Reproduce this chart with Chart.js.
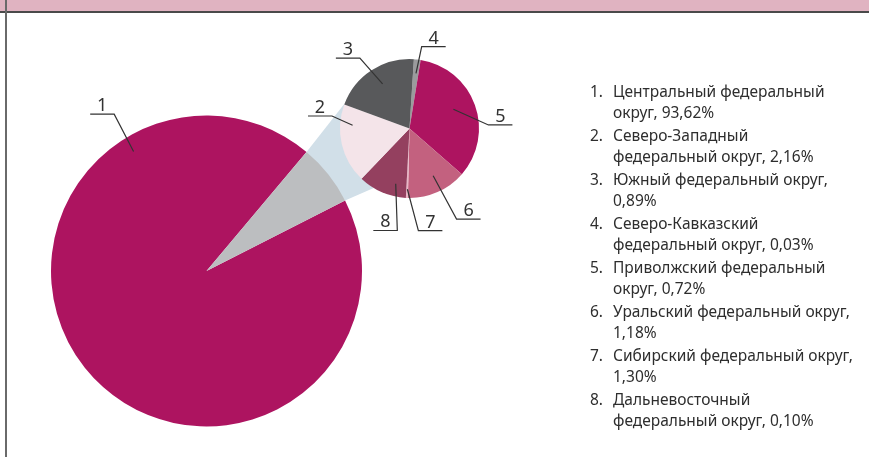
<!DOCTYPE html>
<html>
<head>
<meta charset="utf-8">
<script src="https://cdn.jsdelivr.net/npm/chart.js@4.4.0/dist/chart.umd.min.js"></script>
<style>
    body { margin: 0; width: 869px; height: 457px; overflow: hidden; background: #fff; position: relative; }
    #band { position: absolute; left: 0; top: 0; width: 869px; height: 11px; background: #e0b3c1; border-bottom: 2px solid #4a4a4a; }
    #frame { position: absolute; left: 5px; top: 0; width: 2px; height: 457px; background: #6a6a6a; }
    canvas { position: absolute; left: 0; top: 0; }
    #smallPie { z-index: 1; }
    #bigPie { z-index: 2; }
    #legend { position: absolute; left: 590px; top: 81px; z-index: 3; font-family: "Noto Sans", sans-serif; font-size: 15.5px; color: #2e2e2e; }
    .item { display: flex; line-height: 20.5px; margin-bottom: 3px; }
    .num { width: 23px; flex: none; }
</style>
</head>
<body>
<div id="band"></div>
<div id="frame"></div>
<canvas id="smallPie" width="869" height="457"></canvas>
<canvas id="bigPie" width="869" height="457"></canvas>
<div id="legend"></div>
<script>
// Chart data

// Legend: federal districts and their shares, %
const regionNames = [
    'Центральный федеральный округ',
    'Северо-Западный федеральный округ',
    'Южный федеральный округ',
    'Северо-Кавказский федеральный округ',
    'Приволжский федеральный округ',
    'Уральский федеральный округ',
    'Сибирский федеральный округ',
    'Дальневосточный федеральный округ'
];
const regionShares = [93.62, 2.16, 0.89, 0.03, 0.72, 1.18, 1.30, 0.10];
// words on the first legend line of each item
const firstLineWords = [2, 1, 3, 1, 2, 3, 3, 1];

// Main pie: slice 1 and the combined rest
const bigLabels = ['1', 'Прочие'];
const bigValues = [93.62, 6.38];
const bigColors = ['#ad1460', '#bcbec0'];

// Secondary pie, slices in drawing order (clockwise from top)
const smallLabels = ['4', '5', '6', '7', '8', '2', '3'];
const smallValues = [0.10, 2.16, 0.89, 0.03, 0.72, 1.18, 1.30];
const smallColors = ['#9b9b9d', '#ad1460', '#c3617f', '#e9b6c6', '#94405f', '#f4e4e9', '#58595b'];

// Build legend
const legendEl = document.getElementById('legend');
regionNames.forEach((name, i) => {
    const words = (name + ', ' + regionShares[i].toFixed(2).replace('.', ',') + '%').split(' ');
    const n = firstLineWords[i];
    const div = document.createElement('div');
    div.className = 'item';
    div.innerHTML = `<span class="num">${i + 1}.</span><span>${words.slice(0, n).join(' ')}<br>${words.slice(n).join(' ')}</span>`;
    legendEl.appendChild(div);
});

// Leader lines with numbers
const leaderPlugin = {
    id: 'leaders',
    afterDatasetsDraw(chart, args, opts) {
        const arc = chart.getDatasetMeta(0).data[0];
        const cx = arc.x, cy = arc.y, r = arc.outerRadius;
        const ctx = chart.ctx;
        ctx.save();
        ctx.strokeStyle = '#333';
        ctx.fillStyle = '#333';
        ctx.lineWidth = 1.2;
        ctx.font = '18px "Noto Sans", sans-serif';
        ctx.textAlign = 'center';
        ctx.textBaseline = 'alphabetic';
        opts.items.forEach(it => {
            const a = it.angle * Math.PI / 180;
            const ax = cx + Math.cos(a) * r * it.dist;
            const ay = cy + Math.sin(a) * r * it.dist;
            const ex = ax + it.dx, ey = ay + it.dy;
            const ux = ex + it.side * 24;
            ctx.beginPath();
            ctx.moveTo(ax, ay);
            ctx.lineTo(ex, ey);
            ctx.lineTo(ux, ey);
            ctx.stroke();
            ctx.fillText(chart.data.labels[it.index], (ex + ux) / 2, ey - 3);
        });
        ctx.restore();
    }
};

// Big pie
const bigChart = new Chart(document.getElementById('bigPie'), {
    type: 'pie',
    data: {
        labels: bigLabels,
        datasets: [{
            data: bigValues,
            backgroundColor: bigColors,
            borderWidth: 0
        }]
    },
    options: {
        responsive: false,
        animation: false,
        events: [],
        rotation: 63,
        layout: { padding: { left: 51, top: 115, right: 507, bottom: 30 } },
        plugins: {
            legend: { display: false },
            tooltip: { enabled: false },
            leaders: {
                items: [
                    { index: 0, angle: 238.6, dist: 0.9, dx: -19.4, dy: -37.4, side: -1 }
                ]
            }
        }
    },
    plugins: [leaderPlugin]
});

// Connector between the pies (drawn under both)
const connectorPlugin = {
    id: 'connector',
    beforeDatasetsDraw(chart) {
        const rest = bigChart.getDatasetMeta(0).data[1];
        const small = chart.getDatasetMeta(0).data[0];
        const toRad = d => d * Math.PI / 180;
        const p1 = [rest.x + Math.cos(rest.startAngle) * rest.outerRadius, rest.y + Math.sin(rest.startAngle) * rest.outerRadius];
        const p4 = [rest.x + Math.cos(rest.endAngle) * rest.outerRadius, rest.y + Math.sin(rest.endAngle) * rest.outerRadius];
        const p2 = [small.x + Math.cos(toRad(201)) * small.outerRadius, small.y + Math.sin(toRad(201)) * small.outerRadius];
        const p3 = [small.x + Math.cos(toRad(121)) * small.outerRadius, small.y + Math.sin(toRad(121)) * small.outerRadius];
        const ctx = chart.ctx;
        ctx.save();
        ctx.fillStyle = '#d1dfe8';
        ctx.beginPath();
        ctx.moveTo(p1[0], p1[1]);
        ctx.lineTo(p2[0], p2[1]);
        ctx.lineTo(p3[0], p3[1]);
        ctx.lineTo(p4[0], p4[1]);
        ctx.closePath();
        ctx.fill();
        ctx.restore();
    }
};

// Small pie
new Chart(document.getElementById('smallPie'), {
    type: 'pie',
    data: {
        labels: smallLabels,
        datasets: [{
            data: smallValues,
            backgroundColor: smallColors,
            borderWidth: 0
        }]
    },
    options: {
        responsive: false,
        animation: false,
        events: [],
        rotation: 3.6,
        layout: { padding: { left: 340, top: 59, right: 390, bottom: 259 } },
        plugins: {
            legend: { display: false },
            tooltip: { enabled: false },
            leaders: {
                items: [
                    { index: 6, angle: 238.9, dist: 0.75, dx: -22.7, dy: -25.7, side: -1 },
                    { index: 0, angle: -83.3, dist: 0.8, dx: 5.7, dy: -26.6, side: 1 },
                    { index: 5, angle: 183.2, dist: 0.82, dx: -20.6, dy: -9.3, side: -1 },
                    { index: 1, angle: -23.7, dist: 0.69, dx: 35, dy: 15.7, side: 1 },
                    { index: 2, angle: 63.4, dist: 0.76, dx: 23.4, dy: 43.3, side: 1 },
                    { index: 3, angle: 92, dist: 0.875, dx: 11, dy: 41.4, side: 1 },
                    { index: 4, angle: 104, dist: 0.82, dx: 1.6, dy: 46.7, side: -1 }
                ]
            }
        }
    },
    plugins: [connectorPlugin, leaderPlugin]
});
</script>
</body>
</html>
